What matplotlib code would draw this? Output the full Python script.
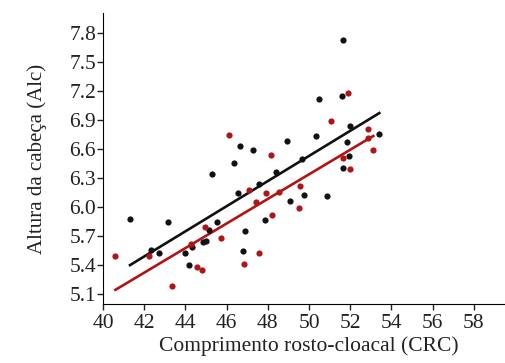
import numpy as np
import matplotlib.pyplot as plt

plt.rcParams['font.family'] = ['Liberation Serif', 'DejaVu Serif']

# black group
black_crc = [41.31, 42.32, 42.73, 43.14, 44.00, 44.15, 44.34, 44.83, 45.00, 45.16,
             45.52, 45.29, 46.37, 46.53, 46.65, 46.80, 46.89, 47.30, 47.57, 47.86,
             48.40, 48.92, 49.08, 49.67, 49.77, 50.34, 50.49, 50.89, 51.59, 51.64,
             51.83, 51.97, 51.94, 51.67, 53.41]
black_alc = [5.88, 5.56, 5.52, 5.85, 5.52, 5.40, 5.59, 5.64, 5.65, 5.76,
             5.85, 6.34, 6.46, 6.15, 6.63, 5.55, 5.75, 6.59, 6.24, 5.87,
             6.36, 6.68, 6.06, 6.50, 6.12, 6.73, 7.12, 6.11, 7.15, 7.73,
             6.67, 6.84, 6.53, 6.40, 6.75]
black_fit = (0.1298, 0.038)   # slope, intercept

# red group
red_crc = [40.60, 42.23, 43.33, 44.28, 44.54, 44.82, 44.93, 45.73, 46.13, 46.82,
           47.09, 47.43, 47.55, 47.89, 48.13, 48.20, 48.52, 49.49, 49.56, 51.08,
           51.67, 51.91, 51.97, 52.84, 52.88, 53.12]
red_alc = [5.49, 5.49, 5.18, 5.62, 5.38, 5.35, 5.79, 5.68, 6.74, 5.41,
           6.18, 6.05, 5.52, 6.15, 6.54, 5.92, 6.16, 5.99, 6.22, 6.89,
           6.51, 7.18, 6.39, 6.71, 6.81, 6.59]
red_fit = (0.1270, -0.012)

x_ticks = [40, 42, 44, 46, 48, 50, 52, 54, 56, 58]
y_ticks = [5.1, 5.4, 5.7, 6.0, 6.3, 6.6, 6.9, 7.2, 7.5, 7.8]

black_col = '#111111'
red_col = '#b01414'

fig = plt.figure(figsize=(5.05, 3.63), dpi=100)
ax = fig.add_axes([0.204, 0.163, 0.816, 0.80])

for xs, ys, fit, c in [(black_crc, black_alc, black_fit, black_col),
                       (red_crc, red_alc, red_fit, red_col)]:
    ax.scatter(xs, ys, s=20, color=c, zorder=3, linewidths=0)
    k, b = fit
    xl = np.array([min(xs), max(xs)])
    ax.plot(xl, k * xl + b, color=c, lw=1.9, zorder=2)

ax.set_xlim(40, 60)
ax.set_ylim(5.0, 8.0)
ax.set_xticks(x_ticks)
ax.set_yticks(y_ticks)
ax.set_yticklabels(['%.1f' % v for v in y_ticks])
ax.spines['top'].set_visible(False)
ax.spines['right'].set_visible(False)
ax.tick_params(direction='out', length=4, width=1, labelsize=15.5, colors='#222222')
ax.tick_params(axis='x', pad=3)
ax.tick_params(axis='y', pad=1)
ax.set_xlabel('Comprimento rosto-cloacal (CRC)', fontsize=15.5, color='#222222', labelpad=3)
ax.set_ylabel('Altura da cabeça (Alc)', fontsize=15, color='#222222', labelpad=16)

fig.savefig('out.png', dpi=100)
